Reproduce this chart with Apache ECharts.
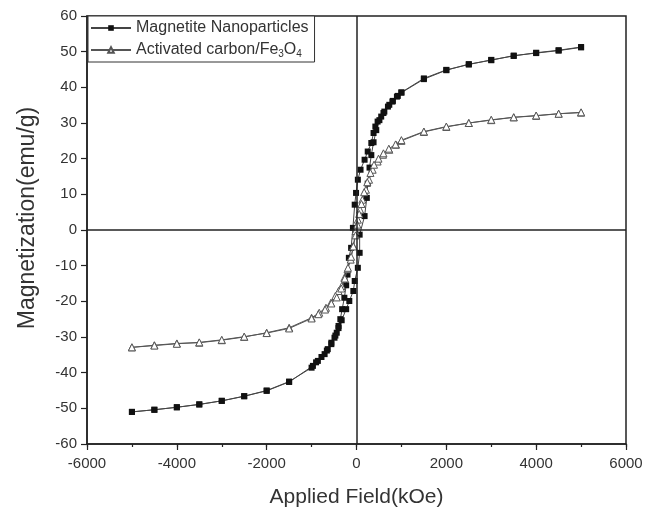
<!DOCTYPE html>
<html>
<head>
<meta charset="utf-8">
<script src="https://cdn.jsdelivr.net/npm/echarts@6/dist/echarts.min.js"></script>
<style>html,body{margin:0;padding:0;background:#fff}#c{width:660px;height:513px}</style>
</head>
<body>
<div id="c"></div>
<script>
// Tick labels
var xTicks = [-6000, -4000, -2000, 0, 2000, 4000, 6000];
var yTicks = [-60, -50, -40, -30, -20, -10, 0, 10, 20, 30, 40, 50, 60];
var seriesNames = ['Magnetite Nanoparticles', 'Activated carbon/Fe3O4'];

// Magnetite nanoparticles: descending branch (field, magnetization)
var magnetiteDown = [
  [5000, 51.2], [4500, 50.3], [4000, 49.6], [3500, 48.9], [3000, 47.6], [2500, 46.5],
  [2000, 44.8], [1500, 42.3], [1000, 38.5], [920, 37.6], [810, 36.2], [730, 35.1],
  [620, 33.2], [550, 31.8], [470, 30.4], [420, 29.0], [380, 27.2], [330, 24.4],
  [250, 22.0], [180, 19.7], [90, 16.9], [30, 14.1], [-10, 10.4], [-40, 7.1],
  [-80, 0.6], [-120, -5.0], [-170, -7.8], [-200, -12.5], [-230, -15.5], [-270, -19.0],
  [-320, -22.2], [-360, -25.0], [-400, -26.9], [-440, -28.8], [-490, -30.2], [-560, -32.0],
  [-640, -33.4], [-710, -34.8], [-860, -36.7], [-970, -38.1], [-1500, -42.6], [-2000, -45.1],
  [-2500, -46.6], [-3000, -47.9], [-3500, -48.9], [-4000, -49.7], [-4500, -50.4], [-5000, -51.0]
];
// Magnetite nanoparticles: ascending branch
var magnetiteUp = [
  [-5000, -51.0], [-4500, -50.4], [-4000, -49.7], [-3500, -48.9], [-3000, -47.9], [-2500, -46.6],
  [-2000, -45.0], [-1500, -42.5], [-1000, -38.6], [-900, -37.1], [-780, -35.6], [-660, -33.8],
  [-560, -31.6], [-470, -29.6], [-400, -27.5], [-330, -25.3], [-230, -22.2], [-160, -19.9],
  [-70, -17.1], [-40, -14.3], [30, -10.6], [70, -6.4], [70, -1.3], [180, 3.9],
  [230, 9.0], [250, 13.0], [290, 17.5], [330, 21.0], [380, 24.6], [440, 28.0],
  [510, 30.8], [600, 32.8], [700, 34.6], [800, 36.0], [900, 37.4], [1000, 38.6],
  [1500, 42.5], [2000, 44.9], [2500, 46.4], [3000, 47.7], [3500, 48.8], [4000, 49.7],
  [4500, 50.4], [5000, 51.3]
];
// Activated carbon/Fe3O4: descending branch
var carbonDown = [
  [5000, 32.9], [4500, 32.6], [4000, 32.0], [3500, 31.6], [3000, 30.8], [2500, 30.0],
  [2000, 28.9], [1500, 27.5], [1000, 25.0], [880, 23.9], [730, 22.5], [590, 21.1],
  [470, 19.2], [360, 16.9], [280, 14.1], [210, 11.3], [130, 8.5], [80, 5.7],
  [30, 2.9], [-20, -0.3], [-70, -4.5], [-130, -8.3], [-200, -11.0], [-270, -13.4],
  [-330, -15.7], [-400, -17.1], [-470, -18.5], [-570, -20.4], [-680, -21.8], [-830, -23.2],
  [-1000, -24.6], [-1500, -27.4], [-2000, -28.8], [-2500, -30.0], [-3000, -30.9], [-3500, -31.6],
  [-4000, -31.8], [-4500, -32.3], [-5000, -32.9]
];
// Activated carbon/Fe3O4: ascending branch
var carbonUp = [
  [-5000, -32.9], [-4500, -32.4], [-4000, -31.9], [-3500, -31.5], [-3000, -30.8], [-2500, -29.9],
  [-2000, -28.9], [-1500, -27.6], [-1000, -24.8], [-850, -23.6], [-700, -22.3], [-560, -20.6],
  [-440, -18.9], [-340, -16.4], [-260, -13.6], [-190, -10.6], [-120, -7.5], [-70, -4.6],
  [-20, -1.5], [20, 1.5], [60, 4.5], [110, 7.3], [170, 10.6], [240, 13.4],
  [310, 16.0], [390, 18.3], [490, 20.0], [600, 21.5], [720, 22.8], [870, 24.0],
  [1000, 25.2], [1500, 27.6], [2000, 29.0], [2500, 30.0], [3000, 30.9], [3500, 31.6],
  [4000, 32.1], [4500, 32.6], [5000, 33.0]
];

var FONT = '"Liberation Sans", Arial, sans-serif';
var chart = echarts.init(document.getElementById('c'), null, {renderer: 'canvas'});
chart.setOption({
  animation: false,
  backgroundColor: '#fff',
  grid: {left: 87, right: 34, top: 16, bottom: 68, show: true, borderColor: '#222', borderWidth: 1.5, backgroundColor: 'transparent'},
  legend: {
    orient: 'vertical', left: 88, top: 16,
    data: seriesNames,
    itemWidth: 40, itemHeight: 7, itemGap: 6,
    padding: [4, 6, 3, 2],
    borderColor: '#333', borderWidth: 1, backgroundColor: '#fff',
    textStyle: {fontFamily: FONT, fontSize: 16, color: '#333',
      rich: {sub: {fontFamily: FONT, fontSize: 10, color: '#333', padding: [8, 0, 0, 0]}}},
    formatter: function (n) { return n === seriesNames[1] ? 'Activated carbon/Fe{sub|3}O{sub|4}' : n; }
  },
  xAxis: [{
    type: 'value', min: xTicks[0], max: xTicks[xTicks.length - 1], interval: 2000,
    position: 'bottom',
    name: 'Applied Field(kOe)', nameLocation: 'middle', nameGap: 43,
    nameTextStyle: {fontFamily: FONT, fontSize: 21, color: '#333'},
    axisLine: {onZero: false, lineStyle: {color: '#222', width: 1.5}},
    axisTick: {show: true, inside: false, length: 6, lineStyle: {color: '#222', width: 1.2}},
    axisLabel: {fontFamily: FONT, fontSize: 15, color: '#333', margin: 12,
      formatter: function (v) { return String(v); }},
    splitLine: {show: false}
  }, {
    type: 'value', min: xTicks[0], max: xTicks[xTicks.length - 1], interval: 1000,
    position: 'bottom', offset: 0,
    axisLine: {show: false, onZero: false},
    axisTick: {show: true, inside: false, length: 3, lineStyle: {color: '#222', width: 1.2}},
    axisLabel: {show: false},
    splitLine: {show: false}
  }],
  yAxis: {
    type: 'value', min: yTicks[0], max: yTicks[yTicks.length - 1], interval: 10,
    name: 'Magnetization(emu/g)', nameLocation: 'middle', nameGap: 48,
    nameTextStyle: {fontFamily: FONT, fontSize: 23, color: '#333', padding: [0, 0, 0, 24]},
    axisLine: {onZero: false, lineStyle: {color: '#222', width: 1.5}},
    axisTick: {show: true, inside: false, length: 6, lineStyle: {color: '#222', width: 1.2}},
    axisLabel: {fontFamily: FONT, fontSize: 15, color: '#333', margin: 10,
      formatter: function (v) { return String(v); }},
    splitLine: {show: false}
  },
  series: [
    {
      name: seriesNames[0], type: 'line', xAxisIndex: 0,
      data: magnetiteDown.concat(magnetiteUp),
      symbol: 'rect', symbolSize: 6,
      itemStyle: {color: '#111', borderColor: '#111', borderWidth: 0},
      lineStyle: {color: '#444', width: 1},
      z: 3,
      markLine: {
        silent: true, symbol: ['none', 'none'], label: {show: false},
        lineStyle: {color: '#222', width: 1.5, type: 'solid'},
        data: [{xAxis: 0}, {yAxis: 0}]
      }
    },
    {
      name: seriesNames[1], type: 'line', xAxisIndex: 0,
      data: carbonDown.concat(carbonUp),
      symbol: 'triangle', symbolSize: 7,
      itemStyle: {color: '#fff', borderColor: '#555', borderWidth: 1},
      lineStyle: {color: '#555', width: 1},
      z: 4
    }
  ]
});
</script>
</body>
</html>
